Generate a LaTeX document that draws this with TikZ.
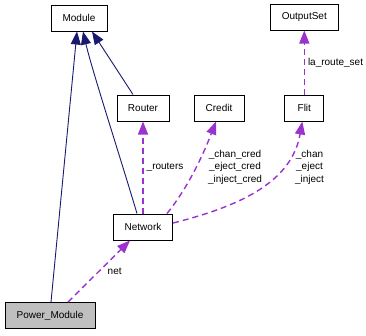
\documentclass[tikz,border=0pt]{standalone}
\usepackage{fontspec}
\setmainfont{Liberation Sans}
\usetikzlibrary{arrows.meta, positioning}
\definecolor{inherit}{HTML}{191970}
\definecolor{usage}{HTML}{9A32CD}
\definecolor{focus}{HTML}{BFBFBF}
\tikzset{
  cls/.style={rectangle, draw=black, line width=1pt, fill=white, font=\fontsize{10}{12}\selectfont,
              minimum height=26pt, inner xsep=2pt, align=center},
  hot/.style={fill=focus},
  isa/.style={-{Triangle[length=13pt, width=10pt, fill=inherit]}, draw=inherit, line width=0.9pt},
  uses/.style={-{Triangle[length=13pt, width=10pt, fill=usage]}, draw=usage, line width=1.4pt,
               dash pattern=on 6pt off 4pt},
  lbl/.style={font=\fontsize{10}{12.5}\selectfont, align=center, inner sep=0pt}
}
\begin{document}
\begin{tikzpicture}[x=1pt, y=-1pt]
  \useasboundingbox (0,0) rectangle (366,335);

  \node[cls, minimum width=56pt] (module) at (79,18) {Module};
  \node[cls, minimum width=52pt] (router) at (143,108) {Router};
  \node[cls, minimum width=50pt, right=24pt of router] (credit) {Credit};
  \node[cls, minimum width=39pt, right=39.8pt of credit] (flit) {Flit};
  \node[cls, minimum width=68pt, above=64pt of flit] (outset) {OutputSet};
  \node[cls, minimum width=59pt, below=92pt of router] (network) {Network};
  \node[cls, hot, minimum width=90pt] (power) at (50,315.5) {Power\_Module};

  % inheritance
  \draw[isa] ([xshift=1pt]power.north) -- ([xshift=-2pt]module.south);
  \draw[isa] ([xshift=-6pt]network.north) .. controls (118,150) and (92,70) .. ([xshift=4pt]module.south);
  \draw[isa] ([xshift=-10pt]router.north) -- ([xshift=13pt]module.south);

  % members
  \draw[uses] (network.north) -- node[lbl, right=3pt, pos=0.5] {\_routers} (router.south);
  \draw[uses] ([xshift=24pt]network.north) .. controls (190,185) and (205,150) .. ([xshift=-3pt]credit.south);
  \node[lbl] (credlbl) at (235,167) {\_chan\_cred\\\_eject\_cred\\\_inject\_cred};
  \draw[uses] ([yshift=4pt]network.east) .. controls (245,205) and (292,180) .. ([xshift=-2pt]flit.south);
  \node[lbl] (flitlbl) at (309.5,167) {\_chan\\\_eject\\\_inject};
  \draw[uses] (flit.north) -- node[lbl, right=3pt] {la\_route\_set} (outset.south);
  \draw[uses] ([xshift=18pt]power.north) -- node[lbl, right=8pt] {net} ([xshift=-13pt]network.south);
\end{tikzpicture}
\end{document}
